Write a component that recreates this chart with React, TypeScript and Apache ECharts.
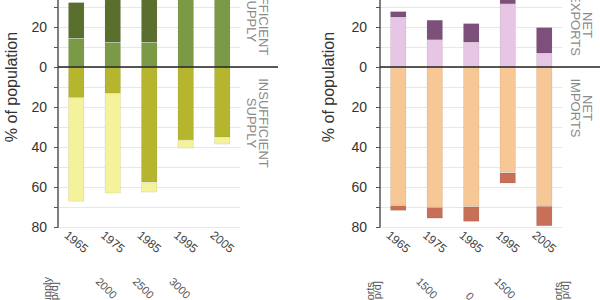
import React, { useEffect, useRef } from 'react';
import * as echarts from 'echarts';

// ---- data ----
const years = ['1965', '1975', '1985', '1995', '2005'];
// left panel: food supply (% of population)
const sufficientLower = [14.3, 12.3, 12.3, 59.3, 61.3];
const sufficientUpper = [18.0, 24.5, 25.0, 0, 0];
const insufficientUpper = [-15.3, -13.2, -57.7, -36.5, -35.2];
const insufficientLower = [-52.0, -50.0, -5.0, -4.2, -3.5];
// right panel: trade (% of population)
const exportsLower = [24.8, 13.5, 12.3, 31.5, 6.8];
const exportsUpper = [3.0, 10.0, 9.5, 10.5, 13.0];
const importsUpper = [-69.2, -70.2, -69.8, -52.8, -69.6];
const importsLower = [-2.6, -5.5, -7.5, -5.4, -9.9];
// axes
const yMin = -80;
const yMax = 60;
const yStep = 20;
const supplyTicks = ['2000', '2500', '3000'];
const tradeTicks = ['1500', '0', '1500'];

// ---- colours ----
const C = {
  darkGreen: '#5a6e2d',
  medGreen: '#7a9a45',
  olive: '#b6b52e',
  lightYellow: '#f4f29a',
  pink: '#e6c6e4',
  purple: '#7d4f7b',
  orange: '#f7c795',
  darkOrange: '#c76f57',
};

const FONT = '"Liberation Sans", Arial, sans-serif';

const GRID_TOP = -53;
const GRID_H = 280;
const GRID_W = 182.5;
const LEFT_X = 58;
const RIGHT_X = 380;

function yAxis(gridIndex: number, nameGap: number, labelMargin: number) {
  return {
    type: 'value',
    gridIndex,
    min: yMin,
    max: yMax,
    interval: yStep,
    axisLine: { show: true, lineStyle: { color: '#555', width: 1.5 } },
    axisTick: { show: true, length: 4, lineStyle: { color: '#555' } },
    minorTick: { show: true, splitNumber: 2, length: 4, lineStyle: { color: '#555' } },
    splitLine: { show: true, lineStyle: { color: '#e8e8e8' } },
    minorSplitLine: { show: true, lineStyle: { color: '#e8e8e8' } },
    axisLabel: {
      formatter: (v: number) => String(Math.abs(v)),
      fontSize: 14,
      color: '#333',
      margin: labelMargin,
      fontFamily: FONT,
    },
    name: '% of population',
    nameLocation: 'middle',
    nameGap,
    nameTextStyle: { fontSize: 16, color: '#333', fontFamily: FONT },
  };
}

function xAxis(gridIndex: number) {
  return {
    type: 'category',
    gridIndex,
    data: years,
    axisLine: { show: false },
    axisTick: { show: false },
    splitLine: { show: false },
    axisLabel: {
      rotate: -40,
      align: 'center',
      verticalAlign: 'middle',
      margin: 15,
      fontSize: 12,
      color: '#444',
      fontFamily: FONT,
    },
  };
}

function bar(name: string, data: number[], color: string, idx: number, stack: string) {
  return {
    type: 'bar',
    name,
    data,
    xAxisIndex: idx,
    yAxisIndex: idx,
    stack,
    barWidth: 16,
    itemStyle: { color, borderColor: 'rgba(0,0,0,0.12)', borderWidth: 0.6 },
  };
}

function sideText(id: string, text: string, x: number, y: number) {
  return {
    type: 'text',
    id,
    x,
    y,
    rotation: -Math.PI / 2,
    style: {
      text,
      fill: '#8a8a8a',
      font: `13px ${FONT}`,
      lineHeight: 12,
      align: 'center',
      verticalAlign: 'middle',
    },
  };
}

function tickText(id: string, text: string, x: number, y: number) {
  return {
    type: 'text',
    id,
    x,
    y,
    rotation: -Math.PI / 4,
    style: { text, fill: '#555', font: `11px ${FONT}`, align: 'center', verticalAlign: 'middle' },
  };
}

function upText(id: string, text: string, x: number, y: number) {
  return {
    type: 'text',
    id,
    x,
    y,
    rotation: Math.PI / 2,
    style: { text, fill: '#555', font: `11px ${FONT}`, align: 'right', verticalAlign: 'middle' },
  };
}

export default function App() {
  const ref = useRef<HTMLDivElement>(null);

  useEffect(() => {
    if (!ref.current) return;
    const chart = echarts.init(ref.current, undefined, { renderer: 'svg' });
    chart.setOption({
      animation: false,
      backgroundColor: '#ffffff',
      grid: [
        { left: LEFT_X, top: GRID_TOP, width: GRID_W, height: GRID_H, containLabel: false, outerBoundsMode: 'none' },
        { left: RIGHT_X, top: GRID_TOP, width: GRID_W, height: GRID_H, containLabel: false, outerBoundsMode: 'none' },
      ],
      xAxis: [xAxis(0), xAxis(1)],
      yAxis: [yAxis(0, 39, 11), yAxis(1, 44, 13)],
      series: [
        bar('Sufficient (lower)', sufficientLower, C.medGreen, 0, 'supply'),
        bar('Sufficient (upper)', sufficientUpper, C.darkGreen, 0, 'supply'),
        bar('Insufficient (upper)', insufficientUpper, C.olive, 0, 'supply'),
        bar('Insufficient (lower)', insufficientLower, C.lightYellow, 0, 'supply'),
        bar('Exports (lower)', exportsLower, C.pink, 1, 'trade'),
        bar('Exports (upper)', exportsUpper, C.purple, 1, 'trade'),
        bar('Imports (upper)', importsUpper, C.orange, 1, 'trade'),
        bar('Imports (lower)', importsLower, C.darkOrange, 1, 'trade'),
      ],
    });

    const y0L = chart.convertToPixel({ yAxisIndex: 0 }, 0) as number;
    const y0R = chart.convertToPixel({ yAxisIndex: 1 }, 0) as number;
    const lineLen = 220;

    chart.setOption({
      graphic: [
        {
          type: 'line',
          id: 'zeroL',
          shape: { x1: LEFT_X, y1: y0L, x2: LEFT_X + lineLen, y2: y0L },
          style: { stroke: '#222', lineWidth: 1.5 },
          z: 10,
        },
        {
          type: 'line',
          id: 'zeroR',
          shape: { x1: RIGHT_X, y1: y0R, x2: RIGHT_X + lineLen, y2: y0R },
          style: { stroke: '#222', lineWidth: 1.5 },
          z: 10,
        },
        sideText('suf', 'SUFFICIENT\nSUPPLY', 257, 17),
        sideText('insuf', 'INSUFFICIENT\nSUPPLY', 257, 123),
        sideText('exp', 'NET\nEXPORTS', 581, 25),
        sideText('imp', 'NET\nIMPORTS', 581, 108),
        tickText('s0', supplyTicks[0], 106.5, 288),
        tickText('s1', supplyTicks[1], 143.5, 288),
        tickText('s2', supplyTicks[2], 180, 288),
        tickText('t0', tradeTicks[0], 427, 288),
        tickText('t1', tradeTicks[1], 470, 296),
        tickText('t2', tradeTicks[2], 505, 288),
        upText('fs1', 'Food supply', 46.5, 277),
        upText('fs2', '[kcal/p/d]', 53.5, 282),
        upText('im1', 'Imports', 369.5, 282),
        upText('im2', '[kcal/p/d]', 376.5, 281),
        upText('ex1', 'Exports', 557.5, 282),
        upText('ex2', '[kcal/p/d]', 564.5, 281),
      ],
    });

    return () => chart.dispose();
  }, []);

  return (
    <div
      ref={ref}
      style={{ position: 'fixed', left: 0, top: 0, width: 600, height: 300 }}
    />
  );
}
